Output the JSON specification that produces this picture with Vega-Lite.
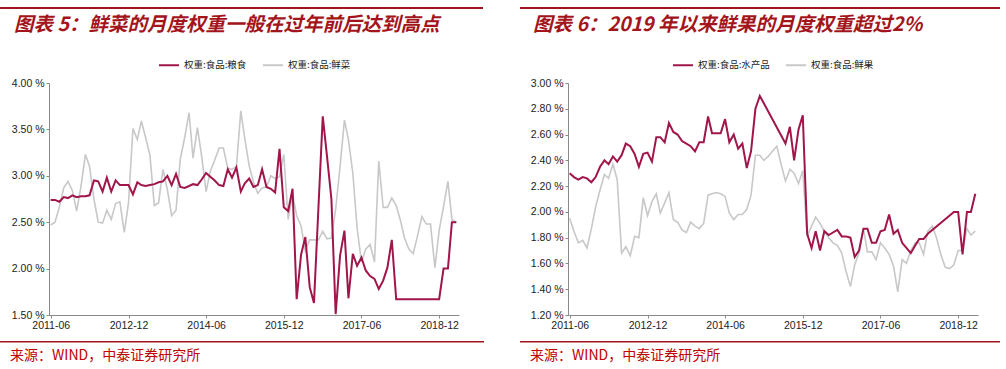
{
  "$schema": "https://vega.github.io/schema/vega-lite/v6.json",
  "padding": {"left": 0, "top": 7, "right": 0, "bottom": 0},
  "background": "white",
  "datasets": {
    "left": [
      {"d": "2011-06", "权重:食品:粮食": 2.74, "权重:食品:鲜菜": 2.47},
      {"d": "2011-07", "权重:食品:粮食": 2.74, "权重:食品:鲜菜": 2.50},
      {"d": "2011-08", "权重:食品:粮食": 2.72, "权重:食品:鲜菜": 2.66},
      {"d": "2011-09", "权重:食品:粮食": 2.77, "权重:食品:鲜菜": 2.87},
      {"d": "2011-10", "权重:食品:粮食": 2.76, "权重:食品:鲜菜": 2.94},
      {"d": "2011-11", "权重:食品:粮食": 2.79, "权重:食品:鲜菜": 2.84},
      {"d": "2011-12", "权重:食品:粮食": 2.77, "权重:食品:鲜菜": 2.62},
      {"d": "2012-01", "权重:食品:粮食": 2.78, "权重:食品:鲜菜": 2.89},
      {"d": "2012-02", "权重:食品:粮食": 2.78, "权重:食品:鲜菜": 3.23},
      {"d": "2012-03", "权重:食品:粮食": 2.79, "权重:食品:鲜菜": 3.10},
      {"d": "2012-04", "权重:食品:粮食": 2.95, "权重:食品:鲜菜": 2.75},
      {"d": "2012-05", "权重:食品:粮食": 2.94, "权重:食品:鲜菜": 2.50},
      {"d": "2012-06", "权重:食品:粮食": 2.83, "权重:食品:鲜菜": 2.49},
      {"d": "2012-07", "权重:食品:粮食": 2.98, "权重:食品:鲜菜": 2.63},
      {"d": "2012-08", "权重:食品:粮食": 2.83, "权重:食品:鲜菜": 2.53},
      {"d": "2012-09", "权重:食品:粮食": 2.95, "权重:食品:鲜菜": 2.70},
      {"d": "2012-10", "权重:食品:粮食": 2.90, "权重:食品:鲜菜": 2.72},
      {"d": "2012-11", "权重:食品:粮食": 2.90, "权重:食品:鲜菜": 2.39},
      {"d": "2012-12", "权重:食品:粮食": 2.90, "权重:食品:鲜菜": 2.71},
      {"d": "2013-01", "权重:食品:粮食": 2.80, "权重:食品:鲜菜": 3.51},
      {"d": "2013-02", "权重:食品:粮食": 2.93, "权重:食品:鲜菜": 3.39},
      {"d": "2013-03", "权重:食品:粮食": 2.90, "权重:食品:鲜菜": 3.59},
      {"d": "2013-04", "权重:食品:粮食": 2.89, "权重:食品:鲜菜": 3.41},
      {"d": "2013-05", "权重:食品:粮食": 2.90, "权重:食品:鲜菜": 3.22},
      {"d": "2013-06", "权重:食品:粮食": 2.91, "权重:食品:鲜菜": 2.68},
      {"d": "2013-07", "权重:食品:粮食": 2.93, "权重:食品:鲜菜": 2.71},
      {"d": "2013-08", "权重:食品:粮食": 2.94, "权重:食品:鲜菜": 3.07},
      {"d": "2013-09", "权重:食品:粮食": 3.00, "权重:食品:鲜菜": 2.85},
      {"d": "2013-10", "权重:食品:粮食": 2.90, "权重:食品:鲜菜": 2.57},
      {"d": "2013-11", "权重:食品:粮食": 3.02, "权重:食品:鲜菜": 2.63},
      {"d": "2013-12", "权重:食品:粮食": 2.88, "权重:食品:鲜菜": 3.18},
      {"d": "2014-01", "权重:食品:粮食": 2.87, "权重:食品:鲜菜": 3.41},
      {"d": "2014-02", "权重:食品:粮食": 2.89, "权重:食品:鲜菜": 3.68},
      {"d": "2014-03", "权重:食品:粮食": 2.91, "权重:食品:鲜菜": 3.19},
      {"d": "2014-04", "权重:食品:粮食": 2.90, "权重:食品:鲜菜": 3.52},
      {"d": "2014-05", "权重:食品:粮食": 2.96, "权重:食品:鲜菜": 3.21},
      {"d": "2014-06", "权重:食品:粮食": 3.03, "权重:食品:鲜菜": 2.83},
      {"d": "2014-07", "权重:食品:粮食": 2.99, "权重:食品:鲜菜": 3.05},
      {"d": "2014-08", "权重:食品:粮食": 2.95, "权重:食品:鲜菜": 3.17},
      {"d": "2014-09", "权重:食品:粮食": 2.90, "权重:食品:鲜菜": 3.30},
      {"d": "2014-10", "权重:食品:粮食": 2.89, "权重:食品:鲜菜": 3.30},
      {"d": "2014-11", "权重:食品:粮食": 3.07, "权重:食品:鲜菜": 3.08},
      {"d": "2014-12", "权重:食品:粮食": 2.98, "权重:食品:鲜菜": 3.07},
      {"d": "2015-01", "权重:食品:粮食": 3.09, "权重:食品:鲜菜": 3.10},
      {"d": "2015-02", "权重:食品:粮食": 2.83, "权重:食品:鲜菜": 3.70},
      {"d": "2015-03", "权重:食品:粮食": 2.92, "权重:食品:鲜菜": 3.40},
      {"d": "2015-04", "权重:食品:粮食": 2.97, "权重:食品:鲜菜": 3.11},
      {"d": "2015-05", "权重:食品:粮食": 2.88, "权重:食品:鲜菜": 2.93},
      {"d": "2015-06", "权重:食品:粮食": 2.90, "权重:食品:鲜菜": 2.81},
      {"d": "2015-07", "权重:食品:粮食": 3.07, "权重:食品:鲜菜": 2.87},
      {"d": "2015-08", "权重:食品:粮食": 2.88, "权重:食品:鲜菜": 2.88},
      {"d": "2015-09", "权重:食品:粮食": 2.86, "权重:食品:鲜菜": 3.00},
      {"d": "2015-10", "权重:食品:粮食": 2.82, "权重:食品:鲜菜": 2.97},
      {"d": "2015-11", "权重:食品:粮食": 3.29, "权重:食品:鲜菜": 2.99},
      {"d": "2015-12", "权重:食品:粮食": 2.66, "权重:食品:鲜菜": 3.23},
      {"d": "2016-01", "权重:食品:粮食": 2.62, "权重:食品:鲜菜": 2.53},
      {"d": "2016-02", "权重:食品:粮食": 2.86, "权重:食品:鲜菜": 2.80},
      {"d": "2016-03", "权重:食品:粮食": 1.67, "权重:食品:鲜菜": 2.57},
      {"d": "2016-04", "权重:食品:粮食": 2.15, "权重:食品:鲜菜": 2.46},
      {"d": "2016-05", "权重:食品:粮食": 2.34, "权重:食品:鲜菜": 2.19},
      {"d": "2016-06", "权重:食品:粮食": 1.80, "权重:食品:鲜菜": 2.31},
      {"d": "2016-07", "权重:食品:粮食": 1.63, "权重:食品:鲜菜": 2.31},
      {"d": "2016-08", "权重:食品:粮食": 2.64, "权重:食品:鲜菜": 2.31},
      {"d": "2016-09", "权重:食品:粮食": 3.64, "权重:食品:鲜菜": 2.40},
      {"d": "2016-10", "权重:食品:粮食": 3.21, "权重:食品:鲜菜": 2.32},
      {"d": "2016-11", "权重:食品:粮食": 2.75, "权重:食品:鲜菜": 2.33},
      {"d": "2016-12", "权重:食品:粮食": 1.51, "权重:食品:鲜菜": 2.64},
      {"d": "2017-01", "权重:食品:粮食": 2.14, "权重:食品:鲜菜": 3.10},
      {"d": "2017-02", "权重:食品:粮食": 2.41, "权重:食品:鲜菜": 3.60},
      {"d": "2017-03", "权重:食品:粮食": 1.68, "权重:食品:鲜菜": 3.39},
      {"d": "2017-04", "权重:食品:粮食": 2.16, "权重:食品:鲜菜": 3.03},
      {"d": "2017-05", "权重:食品:粮食": 2.03, "权重:食品:鲜菜": 2.44},
      {"d": "2017-06", "权重:食品:粮食": 2.12, "权重:食品:鲜菜": 2.07},
      {"d": "2017-07", "权重:食品:粮食": 1.98, "权重:食品:鲜菜": 2.21},
      {"d": "2017-08", "权重:食品:粮食": 1.92, "权重:食品:鲜菜": 2.26},
      {"d": "2017-09", "权重:食品:粮食": 1.89, "权重:食品:鲜菜": 2.07},
      {"d": "2017-10", "权重:食品:粮食": 1.78, "权重:食品:鲜菜": 3.16},
      {"d": "2017-11", "权重:食品:粮食": 1.87, "权重:食品:鲜菜": 2.66},
      {"d": "2017-12", "权重:食品:粮食": 2.01, "权重:食品:鲜菜": 2.66},
      {"d": "2018-01", "权重:食品:粮食": 2.31, "权重:食品:鲜菜": 2.76},
      {"d": "2018-02", "权重:食品:粮食": 1.67, "权重:食品:鲜菜": 2.68},
      {"d": "2018-03", "权重:食品:粮食": 1.67, "权重:食品:鲜菜": 2.53},
      {"d": "2018-04", "权重:食品:粮食": 1.67, "权重:食品:鲜菜": 2.33},
      {"d": "2018-05", "权重:食品:粮食": 1.67, "权重:食品:鲜菜": 2.21},
      {"d": "2018-06", "权重:食品:粮食": 1.67, "权重:食品:鲜菜": 2.16},
      {"d": "2018-07", "权重:食品:粮食": 1.67, "权重:食品:鲜菜": 2.35},
      {"d": "2018-08", "权重:食品:粮食": 1.67, "权重:食品:鲜菜": 2.56},
      {"d": "2018-09", "权重:食品:粮食": 1.67, "权重:食品:鲜菜": 2.48},
      {"d": "2018-10", "权重:食品:粮食": 1.67, "权重:食品:鲜菜": 2.48},
      {"d": "2018-11", "权重:食品:粮食": 1.67, "权重:食品:鲜菜": 2.01},
      {"d": "2018-12", "权重:食品:粮食": 1.67, "权重:食品:鲜菜": 2.41},
      {"d": "2019-01", "权重:食品:粮食": 2.00, "权重:食品:鲜菜": 2.67},
      {"d": "2019-02", "权重:食品:粮食": 2.00, "权重:食品:鲜菜": 2.94},
      {"d": "2019-03", "权重:食品:粮食": 2.50, "权重:食品:鲜菜": 2.53},
      {"d": "2019-04", "权重:食品:粮食": 2.50, "权重:食品:鲜菜": 2.50}
    ],
    "right": [
      {"d": "2011-06", "权重:食品:水产品": 2.30, "权重:食品:鲜果": 1.95},
      {"d": "2011-07", "权重:食品:水产品": 2.27, "权重:食品:鲜果": 1.85},
      {"d": "2011-08", "权重:食品:水产品": 2.25, "权重:食品:鲜果": 1.76},
      {"d": "2011-09", "权重:食品:水产品": 2.27, "权重:食品:鲜果": 1.78},
      {"d": "2011-10", "权重:食品:水产品": 2.26, "权重:食品:鲜果": 1.72},
      {"d": "2011-11", "权重:食品:水产品": 2.23, "权重:食品:鲜果": 1.87},
      {"d": "2011-12", "权重:食品:水产品": 2.27, "权重:食品:鲜果": 2.04},
      {"d": "2012-01", "权重:食品:水产品": 2.35, "权重:食品:鲜果": 2.17},
      {"d": "2012-02", "权重:食品:水产品": 2.40, "权重:食品:鲜果": 2.29},
      {"d": "2012-03", "权重:食品:水产品": 2.37, "权重:食品:鲜果": 2.26},
      {"d": "2012-04", "权重:食品:水产品": 2.43, "权重:食品:鲜果": 2.37},
      {"d": "2012-05", "权重:食品:水产品": 2.39, "权重:食品:鲜果": 2.25},
      {"d": "2012-06", "权重:食品:水产品": 2.44, "权重:食品:鲜果": 1.68},
      {"d": "2012-07", "权重:食品:水产品": 2.53, "权重:食品:鲜果": 1.73},
      {"d": "2012-08", "权重:食品:水产品": 2.51, "权重:食品:鲜果": 1.66},
      {"d": "2012-09", "权重:食品:水产品": 2.45, "权重:食品:鲜果": 1.81},
      {"d": "2012-10", "权重:食品:水产品": 2.35, "权重:食品:鲜果": 1.80},
      {"d": "2012-11", "权重:食品:水产品": 2.45, "权重:食品:鲜果": 2.11},
      {"d": "2012-12", "权重:食品:水产品": 2.46, "权重:食品:鲜果": 1.97},
      {"d": "2013-01", "权重:食品:水产品": 2.39, "权重:食品:鲜果": 2.08},
      {"d": "2013-02", "权重:食品:水产品": 2.58, "权重:食品:鲜果": 2.14},
      {"d": "2013-03", "权重:食品:水产品": 2.58, "权重:食品:鲜果": 1.99},
      {"d": "2013-04", "权重:食品:水产品": 2.54, "权重:食品:鲜果": 2.07},
      {"d": "2013-05", "权重:食品:水产品": 2.69, "权重:食品:鲜果": 2.15},
      {"d": "2013-06", "权重:食品:水产品": 2.62, "权重:食品:鲜果": 1.94},
      {"d": "2013-07", "权重:食品:水产品": 2.60, "权重:食品:鲜果": 1.92},
      {"d": "2013-08", "权重:食品:水产品": 2.55, "权重:食品:鲜果": 1.86},
      {"d": "2013-09", "权重:食品:水产品": 2.53, "权重:食品:鲜果": 1.84},
      {"d": "2013-10", "权重:食品:水产品": 2.51, "权重:食品:鲜果": 1.92},
      {"d": "2013-11", "权重:食品:水产品": 2.47, "权重:食品:鲜果": 1.89},
      {"d": "2013-12", "权重:食品:水产品": 2.54, "权重:食品:鲜果": 1.87},
      {"d": "2014-01", "权重:食品:水产品": 2.54, "权重:食品:鲜果": 1.91},
      {"d": "2014-02", "权重:食品:水产品": 2.74, "权重:食品:鲜果": 2.13},
      {"d": "2014-03", "权重:食品:水产品": 2.61, "权重:食品:鲜果": 2.14},
      {"d": "2014-04", "权重:食品:水产品": 2.61, "权重:食品:鲜果": 2.15},
      {"d": "2014-05", "权重:食品:水产品": 2.61, "权重:食品:鲜果": 2.14},
      {"d": "2014-06", "权重:食品:水产品": 2.72, "权重:食品:鲜果": 2.12},
      {"d": "2014-07", "权重:食品:水产品": 2.54, "权重:食品:鲜果": 1.99},
      {"d": "2014-08", "权重:食品:水产品": 2.60, "权重:食品:鲜果": 1.94},
      {"d": "2014-09", "权重:食品:水产品": 2.49, "权重:食品:鲜果": 1.98},
      {"d": "2014-10", "权重:食品:水产品": 2.53, "权重:食品:鲜果": 1.98},
      {"d": "2014-11", "权重:食品:水产品": 2.34, "权重:食品:鲜果": 2.02},
      {"d": "2014-12", "权重:食品:水产品": 2.47, "权重:食品:鲜果": 2.13},
      {"d": "2015-01", "权重:食品:水产品": 2.80, "权重:食品:鲜果": 2.44},
      {"d": "2015-02", "权重:食品:水产品": 2.90, "权重:食品:鲜果": 2.44},
      {"d": "2015-03", "权重:食品:鲜果": 2.40},
      {"d": "2015-04", "权重:食品:鲜果": 2.43},
      {"d": "2015-05", "权重:食品:鲜果": 2.47},
      {"d": "2015-06", "权重:食品:鲜果": 2.51},
      {"d": "2015-07", "权重:食品:鲜果": 2.37},
      {"d": "2015-08", "权重:食品:水产品": 2.53, "权重:食品:鲜果": 2.24},
      {"d": "2015-09", "权重:食品:水产品": 2.66, "权重:食品:鲜果": 2.33},
      {"d": "2015-10", "权重:食品:水产品": 2.40, "权重:食品:鲜果": 2.30},
      {"d": "2015-11", "权重:食品:水产品": 2.64, "权重:食品:鲜果": 2.22},
      {"d": "2015-12", "权重:食品:水产品": 2.75, "权重:食品:鲜果": 2.32},
      {"d": "2016-01", "权重:食品:水产品": 1.83, "权重:食品:鲜果": 1.81},
      {"d": "2016-02", "权重:食品:水产品": 1.72, "权重:食品:鲜果": 1.89},
      {"d": "2016-03", "权重:食品:水产品": 1.85, "权重:食品:鲜果": 1.96},
      {"d": "2016-04", "权重:食品:水产品": 1.70, "权重:食品:鲜果": 1.91},
      {"d": "2016-05", "权重:食品:水产品": 1.85, "权重:食品:鲜果": 1.85},
      {"d": "2016-06", "权重:食品:水产品": 1.82, "权重:食品:鲜果": 1.80},
      {"d": "2016-07", "权重:食品:水产品": 1.84, "权重:食品:鲜果": 1.76},
      {"d": "2016-08", "权重:食品:水产品": 1.86, "权重:食品:鲜果": 1.74},
      {"d": "2016-09", "权重:食品:水产品": 1.81, "权重:食品:鲜果": 1.68},
      {"d": "2016-10", "权重:食品:水产品": 1.81, "权重:食品:鲜果": 1.54},
      {"d": "2016-11", "权重:食品:水产品": 1.80, "权重:食品:鲜果": 1.42},
      {"d": "2016-12", "权重:食品:水产品": 1.65, "权重:食品:鲜果": 1.59},
      {"d": "2017-01", "权重:食品:水产品": 1.70, "权重:食品:鲜果": 1.68},
      {"d": "2017-02", "权重:食品:水产品": 1.87, "权重:食品:鲜果": 1.87},
      {"d": "2017-03", "权重:食品:水产品": 1.87, "权重:食品:鲜果": 1.69},
      {"d": "2017-04", "权重:食品:水产品": 1.76, "权重:食品:鲜果": 1.69},
      {"d": "2017-05", "权重:食品:水产品": 1.76, "权重:食品:鲜果": 1.63},
      {"d": "2017-06", "权重:食品:水产品": 1.85, "权重:食品:鲜果": 1.76},
      {"d": "2017-07", "权重:食品:水产品": 1.86, "权重:食品:鲜果": 1.72},
      {"d": "2017-08", "权重:食品:水产品": 1.98, "权重:食品:鲜果": 1.67},
      {"d": "2017-09", "权重:食品:水产品": 1.83, "权重:食品:鲜果": 1.58},
      {"d": "2017-10", "权重:食品:水产品": 1.86, "权重:食品:鲜果": 1.38},
      {"d": "2017-11", "权重:食品:水产品": 1.76, "权重:食品:鲜果": 1.63},
      {"d": "2017-12", "权重:食品:水产品": 1.72, "权重:食品:鲜果": 1.60},
      {"d": "2018-01", "权重:食品:水产品": 1.68, "权重:食品:鲜果": 1.70},
      {"d": "2018-02", "权重:食品:水产品": 1.74, "权重:食品:鲜果": 1.76},
      {"d": "2018-03", "权重:食品:水产品": 1.79, "权重:食品:鲜果": 1.76},
      {"d": "2018-04", "权重:食品:水产品": 1.79, "权重:食品:鲜果": 1.67},
      {"d": "2018-05", "权重:食品:水产品": 1.83, "权重:食品:鲜果": 1.85},
      {"d": "2018-06", "权重:食品:鲜果": 1.89},
      {"d": "2018-07", "权重:食品:鲜果": 1.80},
      {"d": "2018-08", "权重:食品:鲜果": 1.67},
      {"d": "2018-09", "权重:食品:鲜果": 1.57},
      {"d": "2018-10", "权重:食品:鲜果": 1.56},
      {"d": "2018-11", "权重:食品:水产品": 2.00, "权重:食品:鲜果": 1.59},
      {"d": "2018-12", "权重:食品:水产品": 2.00, "权重:食品:鲜果": 1.70},
      {"d": "2019-01", "权重:食品:水产品": 1.67, "权重:食品:鲜果": 1.70},
      {"d": "2019-02", "权重:食品:水产品": 2.00, "权重:食品:鲜果": 1.87},
      {"d": "2019-03", "权重:食品:水产品": 2.00, "权重:食品:鲜果": 1.82},
      {"d": "2019-04", "权重:食品:水产品": 2.14, "权重:食品:鲜果": 1.85}
    ]
  },
  "spacing": 36,
  "resolve": {"scale": {"color": "independent", "x": "independent", "y": "independent"}, "legend": {"color": "independent"}},
  "hconcat": [
    {
      "spacing": 19,
      "resolve": {"scale": {"color": "independent", "x": "independent", "y": "independent"}, "legend": {"color": "independent"}},
      "vconcat": [
        {
          "width": 434, "height": 2,
          "title": {"text": "图表 5：鲜菜的月度权重一般在过年前后达到高点", "orient": "bottom", "anchor": "start", "frame": "bounds", "offset": 7, "dx": 14},
          "data": {"values": [{"start": 0, "end": 1, "lo": 0, "hi": 1}]},
          "mark": {"type": "rect", "color": "#a0161c", "clip": false},
          "encoding": {
            "x": {"field": "start", "type": "quantitative", "scale": {"domain": [0.1014, 1], "nice": false, "zero": false}, "axis": null},
            "x2": {"field": "end"},
            "y": {"field": "lo", "type": "quantitative", "scale": {"domain": [0, 1], "nice": false}, "axis": {"domain": false, "ticks": false, "labels": false, "grid": false, "title": null, "minExtent": 49, "maxExtent": 49}},
            "y2": {"field": "hi"}
          }
        },
        {
          "spacing": 10,
          "resolve": {"scale": {"color": "independent", "x": "independent", "y": "independent"}, "legend": {"color": "independent"}},
          "vconcat": [
            {
              "width": 410, "height": 232,
              "data": {"name": "left"},
              "transform": [
                {"fold": ["权重:食品:粮食", "权重:食品:鲜菜"], "as": ["series", "value"]},
                {"filter": "datum.value != null"}
              ],
              "encoding": {
                "x": {"field": "d", "type": "temporal", "title": null,
                  "scale": {"type": "utc", "domain": [{"year": 2011, "month": 5, "date": 20, "utc": true}, {"year": 2019, "month": 4, "date": 20, "utc": true}]},
                  "axis": {"format": "%Y-%m", "labelFlush": false, "values": [
                    {"year": 2011, "month": 6, "date": 1, "utc": true},
                    {"year": 2012, "month": 12, "date": 1, "utc": true},
                    {"year": 2014, "month": 6, "date": 1, "utc": true},
                    {"year": 2015, "month": 12, "date": 1, "utc": true},
                    {"year": 2017, "month": 6, "date": 1, "utc": true},
                    {"year": 2018, "month": 12, "date": 1, "utc": true}]}},
                "y": {"field": "value", "type": "quantitative", "title": null,
                  "scale": {"domain": [1.5, 4], "nice": false, "zero": false},
                  "axis": {"values": [1.5, 2, 2.5, 3, 3.5, 4], "labelExpr": "format(datum.value, '.2f') + ' %'", "minExtent": 49, "maxExtent": 49}},
                "color": {"field": "series", "type": "nominal",
                  "scale": {"domain": ["权重:食品:粮食", "权重:食品:鲜菜"], "range": ["#a0154a", "#c8c8c8"]},
                  "legend": {"title": null, "orient": "none", "legendX": 109, "legendY": -29, "direction": "horizontal"}}
              },
              "layer": [
                {"transform": [{"filter": "datum.series == '权重:食品:鲜菜'"}], "mark": {"type": "line", "strokeWidth": 1.6, "invalid": "filter"}},
                {"transform": [{"filter": "datum.series == '权重:食品:粮食'"}], "mark": {"type": "line", "strokeWidth": 2, "invalid": "filter"}}
              ]
            },
            {
              "width": 435, "height": 1.5,
              "title": {"text": "来源：WIND，中泰证券研究所", "orient": "bottom", "anchor": "start", "frame": "bounds", "offset": 6, "dx": 10, "fontSize": 14, "fontWeight": "normal", "fontStyle": "normal", "color": "#c00000"},
              "data": {"values": [{"start": 0, "end": 1, "lo": 0, "hi": 1}]},
              "mark": {"type": "rect", "color": "#a0161c", "clip": false},
              "encoding": {
                "x": {"field": "start", "type": "quantitative", "scale": {"domain": [0.1012, 1], "nice": false, "zero": false}, "axis": null},
                "x2": {"field": "end"},
                "y": {"field": "lo", "type": "quantitative", "scale": {"domain": [0, 1], "nice": false}, "axis": {"domain": false, "ticks": false, "labels": false, "grid": false, "title": null, "minExtent": 49, "maxExtent": 49}},
                "y2": {"field": "hi"}
              }
            }
          ]
        }
      ]
    },
    {
      "spacing": 19,
      "resolve": {"scale": {"color": "independent", "x": "independent", "y": "independent"}, "legend": {"color": "independent"}},
      "vconcat": [
        {
          "width": 432, "height": 2,
          "title": {"text": "图表 6：2019 年以来鲜果的月度权重超过2%", "orient": "bottom", "anchor": "start", "frame": "bounds", "offset": 7, "dx": 13},
          "data": {"values": [{"start": 0, "end": 1, "lo": 0, "hi": 1}]},
          "mark": {"type": "rect", "color": "#a0161c", "clip": false},
          "encoding": {
            "x": {"field": "start", "type": "quantitative", "scale": {"domain": [0.1, 1], "nice": false, "zero": false}, "axis": null},
            "x2": {"field": "end"},
            "y": {"field": "lo", "type": "quantitative", "scale": {"domain": [0, 1], "nice": false}, "axis": {"domain": false, "ticks": false, "labels": false, "grid": false, "title": null, "minExtent": 48, "maxExtent": 48}},
            "y2": {"field": "hi"}
          }
        },
        {
          "spacing": 10,
          "resolve": {"scale": {"color": "independent", "x": "independent", "y": "independent"}, "legend": {"color": "independent"}},
          "vconcat": [
            {
              "width": 410, "height": 232,
              "data": {"name": "right"},
              "transform": [
                {"fold": ["权重:食品:水产品", "权重:食品:鲜果"], "as": ["series", "value"]},
                {"filter": "datum.value != null"}
              ],
              "encoding": {
                "x": {"field": "d", "type": "temporal", "title": null,
                  "scale": {"type": "utc", "domain": [{"year": 2011, "month": 5, "date": 20, "utc": true}, {"year": 2019, "month": 4, "date": 20, "utc": true}]},
                  "axis": {"format": "%Y-%m", "labelFlush": false, "values": [
                    {"year": 2011, "month": 6, "date": 1, "utc": true},
                    {"year": 2012, "month": 12, "date": 1, "utc": true},
                    {"year": 2014, "month": 6, "date": 1, "utc": true},
                    {"year": 2015, "month": 12, "date": 1, "utc": true},
                    {"year": 2017, "month": 6, "date": 1, "utc": true},
                    {"year": 2018, "month": 12, "date": 1, "utc": true}]}},
                "y": {"field": "value", "type": "quantitative", "title": null,
                  "scale": {"domain": [1.2, 3.0], "nice": false, "zero": false},
                  "axis": {"values": [1.2, 1.4, 1.6, 1.8, 2.0, 2.2, 2.4, 2.6, 2.8, 3.0], "labelExpr": "format(datum.value, '.2f') + ' %'", "minExtent": 48, "maxExtent": 48}},
                "color": {"field": "series", "type": "nominal",
                  "scale": {"domain": ["权重:食品:水产品", "权重:食品:鲜果"], "range": ["#a0154a", "#c8c8c8"]},
                  "legend": {"title": null, "orient": "none", "legendX": 104, "legendY": -29, "direction": "horizontal"}}
              },
              "layer": [
                {"transform": [{"filter": "datum.series == '权重:食品:鲜果'"}], "mark": {"type": "line", "strokeWidth": 1.6, "invalid": "filter"}},
                {"transform": [{"filter": "datum.series == '权重:食品:水产品'"}], "mark": {"type": "line", "strokeWidth": 2, "invalid": "filter"}}
              ]
            },
            {
              "width": 432, "height": 1.5,
              "title": {"text": "来源：WIND，中泰证券研究所", "orient": "bottom", "anchor": "start", "frame": "bounds", "offset": 6, "dx": 10, "fontSize": 14, "fontWeight": "normal", "fontStyle": "normal", "color": "#c00000"},
              "data": {"values": [{"start": 0, "end": 1, "lo": 0, "hi": 1}]},
              "mark": {"type": "rect", "color": "#a0161c", "clip": false},
              "encoding": {
                "x": {"field": "start", "type": "quantitative", "scale": {"domain": [0.1, 1], "nice": false, "zero": false}, "axis": null},
                "x2": {"field": "end"},
                "y": {"field": "lo", "type": "quantitative", "scale": {"domain": [0, 1], "nice": false}, "axis": {"domain": false, "ticks": false, "labels": false, "grid": false, "title": null, "minExtent": 48, "maxExtent": 48}},
                "y2": {"field": "hi"}
              }
            }
          ]
        }
      ]
    }
  ],
  "config": {
    "view": {"stroke": null},
    "font": "Noto Sans CJK SC",
    "axis": {"grid": false, "domainColor": "#8a8a8a", "tickColor": "#8a8a8a", "tickSize": 3, "labelPadding": 2, "labelFont": "Liberation Sans Narrow, Liberation Sans", "labelFontSize": 10.5, "labelColor": "#222222"},
    "legend": {"symbolType": "stroke", "symbolSize": 400, "symbolStrokeWidth": 2, "labelFont": "Noto Sans CJK SC", "labelFontSize": 9.5, "labelColor": "#222222", "columnPadding": 12, "labelOffset": 4, "padding": 0},
    "title": {"font": "Noto Sans CJK SC", "fontSize": 19.5, "fontWeight": "bold", "fontStyle": "italic", "color": "#a3141b"}
  }
}
